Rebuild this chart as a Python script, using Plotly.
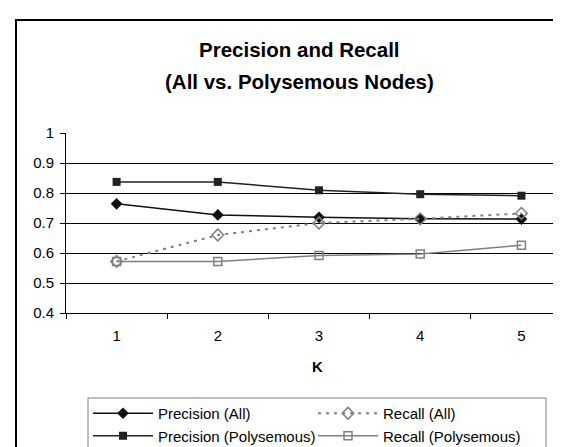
import plotly.graph_objects as go

# ---- data ----
k_labels = ["1", "2", "3", "4", "5"]
precision_all = [0.764, 0.727, 0.719, 0.714, 0.713]
recall_all = [0.572, 0.660, 0.700, 0.714, 0.732]
precision_poly = [0.837, 0.837, 0.809, 0.796, 0.791]
recall_poly = [0.572, 0.572, 0.592, 0.597, 0.626]
y_ticks = [0.4, 0.5, 0.6, 0.7, 0.8, 0.9, 1.0]
y_tick_text = ["0.4", "0.5", "0.6", "0.7", "0.8", "0.9", "1"]

W, H = 561, 447
L, R, T, B = 58, 0, 125, 142
PW, PH = W - L - R, H - T - B
FONT = "Liberation Sans, Arial, sans-serif"


def px(x):
    return (x - L) / PW


def py(y):
    return (H - B - y) / PH


fig = go.Figure()
fig.add_trace(go.Scatter(
    x=k_labels, y=precision_all, name="Precision (All)", mode="lines+markers",
    line=dict(color="#111111", width=1.5),
    marker=dict(symbol="diamond", size=9, color="#111111")))
fig.add_trace(go.Scatter(
    x=k_labels, y=recall_all, name="Recall (All)", mode="lines+markers",
    line=dict(color="#808080", width=2, dash="3px,5px"),
    marker=dict(symbol="diamond-open", size=9, color="#808080", line=dict(width=1.5))))
fig.add_trace(go.Scatter(
    x=k_labels, y=precision_poly, name="Precision (Polysemous)", mode="lines+markers",
    line=dict(color="#222222", width=1.5),
    marker=dict(symbol="square", size=8, color="#222222")))
fig.add_trace(go.Scatter(
    x=k_labels, y=recall_poly, name="Recall (Polysemous)", mode="lines+markers",
    line=dict(color="#808080", width=1.5),
    marker=dict(symbol="square-open", size=8, color="#808080", line=dict(width=1.5))))

fig.update_layout(
    width=W, height=H,
    margin=dict(l=L, r=R, t=T, b=B, pad=0),
    paper_bgcolor="white", plot_bgcolor="white",
    font=dict(family=FONT, size=15, color="black"),
    showlegend=True,
    legend=dict(
        orientation="h", x=px(80), y=py(389), xanchor="left", yanchor="top",
        entrywidth=150, entrywidthmode="pixels", itemwidth=60,
        bgcolor="rgba(0,0,0,0)", borderwidth=0,
        font=dict(family=FONT, size=15, color="black"),
        tracegroupgap=0, traceorder="normal",
    ),
    xaxis=dict(
        type="category", categoryorder="array", categoryarray=k_labels,
        range=[-0.5, 4.47], showgrid=False, zeroline=False,
        showline=True, linecolor="black", linewidth=1,
        ticks="outside", ticklen=5, tickcolor="black", tickson="boundaries",
        tickfont=dict(size=15), ticklabelstandoff=9,
        title=dict(text="<b>K</b>", font=dict(size=15), standoff=18),
    ),
    yaxis=dict(
        range=[0.4, 1.0], tickvals=y_ticks, ticktext=y_tick_text,
        showgrid=True, gridcolor="black", gridwidth=1, zeroline=False,
        showline=True, linecolor="black", linewidth=1,
        ticks="outside", ticklen=5, tickcolor="black",
        tickfont=dict(size=15), ticklabelstandoff=3,
    ),
    annotations=[
        dict(text="<b>Precision and Recall</b>", x=px(291), y=py(41),
             xref="paper", yref="paper", xanchor="center", yanchor="middle",
             showarrow=False, font=dict(size=20.5, family=FONT)),
        dict(text="<b>(All vs. Polysemous Nodes)</b>", x=px(291), y=py(74),
             xref="paper", yref="paper", xanchor="center", yanchor="middle",
             showarrow=False, font=dict(size=20.5, family=FONT)),
    ],
    shapes=[
        dict(type="rect", xref="paper", yref="paper",
             x0=px(8), x1=px(575), y0=py(460), y1=py(12),
             line=dict(color="black", width=2), fillcolor="rgba(0,0,0,0)", layer="below"),
        dict(type="rect", xref="paper", yref="paper",
             x0=px(80), x1=px(538), y0=py(455), y1=py(390),
             line=dict(color="#808080", width=1), fillcolor="rgba(0,0,0,0)", layer="below"),
    ],
)

fig.write_html("out.html")
